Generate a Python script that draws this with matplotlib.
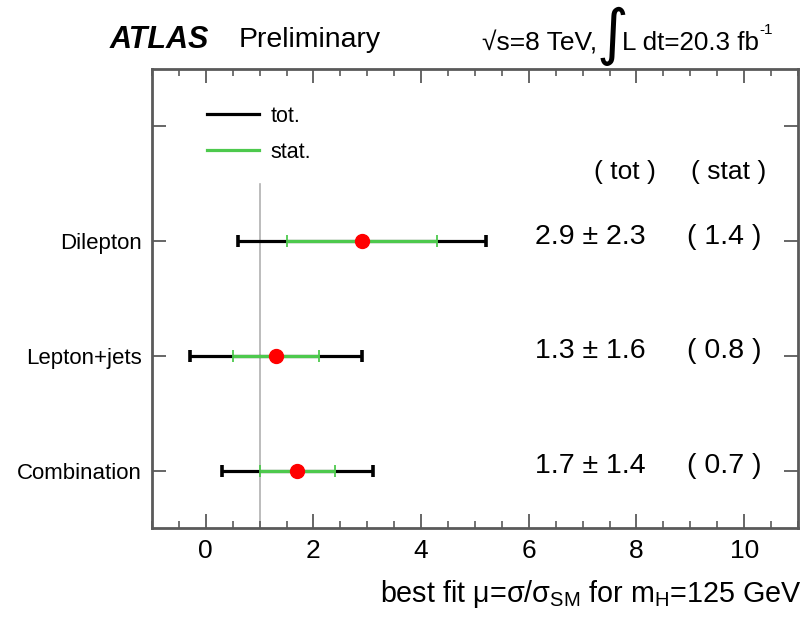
import matplotlib
matplotlib.use('Agg')
import matplotlib.pyplot as plt
from matplotlib.lines import Line2D
from matplotlib.ticker import MultipleLocator

# data
channels = ['Combination', 'Lepton+jets', 'Dilepton']
mu = [1.7, 1.3, 2.9]
err_tot = [1.4, 1.6, 2.3]
err_stat = [0.7, 0.8, 1.4]
ypos = [1, 2, 3]
sm_value = 1.0

plt.rcParams['font.family'] = ['Liberation Sans', 'DejaVu Sans']
plt.rcParams['mathtext.fontset'] = 'custom'
plt.rcParams['mathtext.rm'] = 'Liberation Sans'
plt.rcParams['mathtext.it'] = 'Liberation Sans:italic'
plt.rcParams['mathtext.bf'] = 'Liberation Sans:bold'

frame_col = '#5a5a5a'
green = '#4dc94d'

fig = plt.figure(figsize=(8.04, 6.18), dpi=100)
ax = fig.add_axes([0.189, 0.1456, 0.8035, 0.7427])

# SM reference line, stops below the legend
ax.axvline(sm_value, ymin=0, ymax=0.75, color='#b0b0b0', lw=1.2, zorder=1)

# total, stat and central values
ax.errorbar(mu, ypos, xerr=err_tot, fmt='none', ecolor='black',
            elinewidth=2.3, capsize=4.5, capthick=2.6, zorder=2)
ax.errorbar(mu, ypos, xerr=err_stat, fmt='none', ecolor=green,
            elinewidth=2.3, capsize=4.5, capthick=1.3, zorder=3)
ax.plot(mu, ypos, 'o', color='red', ms=10, mec='red', zorder=4)

# value columns on the right
ax.text(7.79, 3.6, '( tot )', ha='center', va='center', fontsize=19)
ax.text(9.71, 3.6, '( stat )', ha='center', va='center', fontsize=19)
for y, m, t, s in zip(ypos, mu, err_tot, err_stat):
    ax.text(7.14, y + 0.04, f'{m:.1f} \u00b1 {t:.1f}', ha='center', va='center', fontsize=20.5)
    ax.text(9.63, y + 0.04, f'( {s:.1f} )', ha='center', va='center', fontsize=20.5)

ax.set_xlim(-1, 11)
ax.set_ylim(0.5, 4.5)
ax.set_yticks([1, 2, 3, 4])
ax.set_yticklabels(channels + [''], fontsize=16)
ax.xaxis.set_major_locator(MultipleLocator(2))
ax.xaxis.set_minor_locator(MultipleLocator(0.5))
ax.tick_params(axis='x', which='major', direction='in', length=10, width=1.3,
               top=True, labelsize=19, pad=8, color=frame_col)
ax.tick_params(axis='x', which='minor', direction='in', length=5, width=1.2,
               top=True, color=frame_col)
ax.tick_params(axis='y', which='major', direction='in', length=10, width=1.3,
               right=True, pad=7, color=frame_col)
for sp in ax.spines.values():
    sp.set_color(frame_col)
    sp.set_linewidth(2)

# legend
handles = [Line2D([], [], color='black', lw=2.3), Line2D([], [], color=green, lw=2.3)]
ax.legend(handles, ['tot.', 'stat.'], loc='upper left', bbox_to_anchor=(0.085, 0.92),
          frameon=False, fontsize=15.5, handlelength=2.4, handletextpad=0.55,
          labelspacing=0.7, borderpad=0, borderaxespad=0)

# axis title, right aligned under the frame
fig.text(0.997, 1 - 602 / 618, 'best fit \u03bc=\u03c3/\u03c3$_{\\rm SM}$ for m$_{\\rm H}$=125 GeV',
         ha='right', va='baseline', fontsize=20.7)

# header
fig.text(0.136, 0.935, 'ATLAS', fontsize=22, fontweight='bold', fontstyle='italic',
         ha='left', va='center')
fig.text(0.297, 0.935, 'Preliminary', fontsize=20.5, ha='left', va='center')
fig.text(0.600, 1 - 50 / 618, '\u221as=8 TeV,', fontsize=19, ha='left', va='baseline')
fig.text(0.762, 0.941, '\u222b', fontsize=44, ha='center', va='center', family='DejaVu Sans')
fig.text(0.774, 1 - 50 / 618, 'L dt=20.3 fb', fontsize=18.7, ha='left', va='baseline')
fig.text(0.944, 0.951, '-1', fontsize=11, ha='left', va='center')

fig.savefig('out.png', dpi=100)
